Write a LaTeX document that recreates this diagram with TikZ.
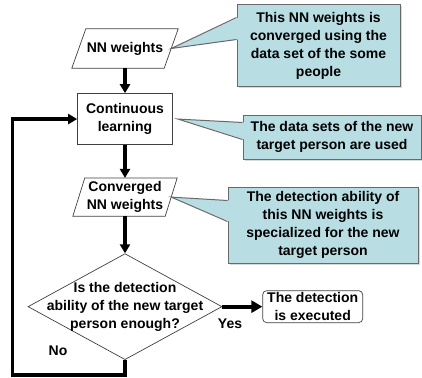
\documentclass[tikz,border=0pt]{standalone}
\usepackage{fontspec}
\setmainfont{Liberation Sans}
\usetikzlibrary{arrows.meta,positioning,calc,shapes.geometric,shadows}
\definecolor{notefill}{RGB}{184,222,227}
\definecolor{noteline}{RGB}{105,105,105}

\begin{document}
\begin{tikzpicture}[x=1pt, y=-1pt,
  every node/.style={font=\fontsize{14}{18}\selectfont\bfseries, inner sep=0pt},
  flow/.style={line width=3.2pt, -{Triangle[length=9pt,width=10pt]}},
  data/.style={minimum width=92pt, minimum height=39pt, align=center},
  slant/.style={draw=black!75, line width=0.7pt, line join=miter},
  proc/.style={draw=black!75, line width=0.7pt, minimum width=95pt,
               minimum height=51pt, align=center},
  note/.style={draw=noteline, fill=notefill, line width=1pt, align=center,
               drop shadow={shadow xshift=1.5pt, shadow yshift=-1.5pt, opacity=0.3}}
]
  \useasboundingbox (0,0) rectangle (422,377);

  % main column
  \node[data] (nn) at (125,48.5) {NN weights};
  \node[proc, below=25pt of nn] (learn) {Continuous\\learning};
  \node[data, minimum height=38pt, below=33pt of learn] (conv) {Converged\\NN weights};
  \node[diamond, draw=black!75, line width=0.7pt, minimum width=194pt,
        minimum height=106pt, below=37pt of conv] (chk) {};
  \node[align=center] (chktxt) at (chk) {Is the detection\\ability of the new target\\person enough?};
  \node[draw=black!75, line width=0.7pt, rounded corners=4pt, minimum width=100pt,
        minimum height=32pt, align=center, right=40pt of chk] (done) {The detection\\is executed};

  % input/output boxes
  \draw[slant] ([xshift=-7pt]nn.south west) -- ([xshift=7pt]nn.north west)
    -- ([xshift=7pt]nn.north east) -- ([xshift=-7pt]nn.south east) -- cycle;
  \draw[slant] ([xshift=-6pt]conv.south west) -- ([xshift=6pt]conv.north west)
    -- ([xshift=6pt]conv.north east) -- ([xshift=-6pt]conv.south east) -- cycle;

  \draw[flow] (nn) -- (learn);
  \draw[flow] (learn) -- (conv);
  \draw[flow] (conv) -- (chk);
  \draw[line width=4pt, -{Triangle[length=11pt,width=12pt]}] (chk) -- (done);
  \draw[flow] (chk.south) -- ++(0,15) -| ([xshift=-65pt]learn.west) -- (learn.west);
  \node (yes) at (230,324) {Yes};
  \node (no) at (58,351) {No};

  % notes with their pointers
  \node[note, minimum width=163pt, minimum height=82pt] (n1) at (318.5,46)
    {This NN weights is\\converged using the\\data set of the some\\people};
  \node[note, minimum width=178pt, minimum height=44pt] (n2) at (332,137)
    {The data sets of the new\\target person are used};
  \node[note, minimum width=190pt, minimum height=76pt] (n3) at (323,225)
    {The detection ability of\\this NN weights is\\specialized for the new\\target person};

  \fill[notefill] (nn.east) -- ([shift={(2pt,-13pt)}]n1.north west) -- ([shift={(2pt,-35pt)}]n1.north west) -- cycle;
  \draw[noteline, line width=1pt] ([yshift=-13pt]n1.north west) -- (nn.east) -- ([yshift=-35pt]n1.north west);
  \fill[notefill] ([xshift=5pt]learn.east) -- ([shift={(2pt,-8pt)}]n2.north west) -- ([shift={(2pt,-25pt)}]n2.north west) -- cycle;
  \draw[noteline, line width=1pt] ([yshift=-8pt]n2.north west) -- ([xshift=5pt]learn.east) -- ([yshift=-25pt]n2.north west);
  \fill[notefill] (conv.east) -- ([shift={(2pt,-14pt)}]n3.north west) -- ([shift={(2pt,-35pt)}]n3.north west) -- cycle;
  \draw[noteline, line width=1pt] ([yshift=-14pt]n3.north west) -- (conv.east) -- ([yshift=-35pt]n3.north west);
\end{tikzpicture}
\end{document}
